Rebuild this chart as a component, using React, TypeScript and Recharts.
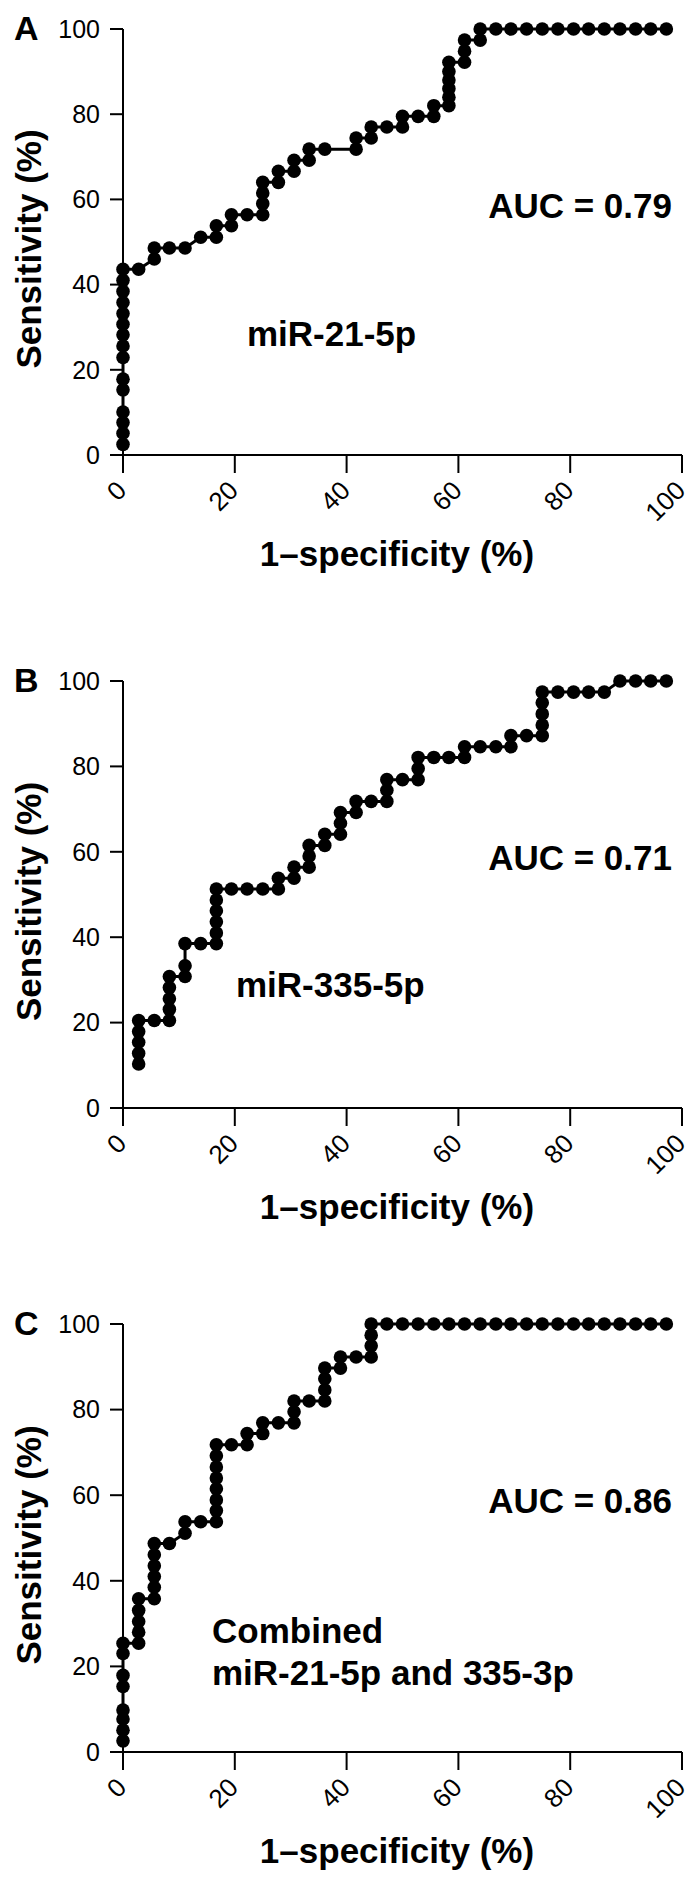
import { LineChart, Line, XAxis, YAxis, Label } from "recharts";

const FONT = '"Liberation Sans", Arial, Helvetica, sans-serif';

// Panel A – miR-21-5p
const aFpr = [
    0, 0, 0, 0, 0, 0, 0, 0, 0, 0, 0, 0, 0, 0, 0,
    2.8, 5.6, 5.6, 8.3, 11.1, 13.9, 16.7, 16.7, 19.4, 19.4,
    22.2, 25.0, 25.0, 25.0, 25.0, 27.8, 27.8, 30.6, 30.6, 33.3,
    33.3, 36.1, 41.7, 41.7, 44.4, 44.4, 47.2, 50.0, 50.0, 52.8,
    55.6, 55.6, 58.3, 58.3, 58.3, 58.3, 58.3, 58.3,
    61.1, 61.1, 61.1, 63.9, 63.9,
    66.7, 69.4, 72.2, 75.0, 77.8, 80.6, 83.3, 86.1, 88.9, 91.7, 94.4, 97.2,
];
const aSens = [
    2.5, 5.1, 7.6, 10.1, 15.3, 17.8, 22.9, 25.6, 28.2, 30.7, 33.2, 35.8, 38.4, 41.0, 43.6,
    43.6, 46.0, 48.6, 48.6, 48.6, 51.1, 51.1, 53.8, 53.8, 56.4,
    56.4, 56.4, 59.0, 61.5, 64.0, 64.0, 66.6, 66.6, 69.2, 69.2,
    71.8, 71.8, 71.8, 74.4, 74.4, 77.0, 77.0, 77.0, 79.5, 79.5,
    79.5, 82.0, 82.0, 84.0, 86.0, 88.0, 90.0, 92.2,
    92.2, 94.8, 97.4, 97.4, 100,
    100, 100, 100, 100, 100, 100, 100, 100, 100, 100, 100, 100,
];

// Panel B – miR-335-5p
const bFpr = [
    2.8, 2.8, 2.8, 2.8, 2.8, 5.6, 8.3, 8.3, 8.3, 8.3, 8.3, 11.1, 11.1, 11.1, 13.9,
    16.7, 16.7, 16.7, 16.7, 16.7, 16.7, 19.4, 22.2, 25.0, 27.8, 27.8, 30.6, 30.6,
    33.3, 33.3, 33.3, 36.1, 36.1, 38.9, 38.9, 38.9, 41.7, 41.7, 44.4, 47.2, 47.2, 47.2,
    50.0, 52.8, 52.8, 52.8, 55.6, 58.3, 61.1, 61.1, 63.9, 66.7, 69.4, 69.4, 72.2,
    75.0, 75.0, 75.0, 75.0, 75.0, 77.8, 80.6, 83.3, 86.1, 88.9, 91.7, 94.4, 97.2,
];
const bSens = [
    10.3, 12.8, 15.4, 17.9, 20.5, 20.5, 20.5, 23.1, 25.6, 28.2, 30.8, 30.8, 33.3, 38.5, 38.5,
    38.5, 41.0, 43.6, 46.2, 48.7, 51.3, 51.3, 51.3, 51.3, 51.3, 53.8, 53.8, 56.4,
    56.4, 59.0, 61.5, 61.5, 64.1, 64.1, 66.7, 69.2, 69.2, 71.8, 71.8, 71.8, 74.4, 76.9,
    76.9, 76.9, 79.5, 82.1, 82.1, 82.1, 82.1, 84.6, 84.6, 84.6, 84.6, 87.2, 87.2,
    87.2, 89.7, 92.3, 94.9, 97.4, 97.4, 97.4, 97.4, 97.4, 100, 100, 100, 100,
];

// Panel C – combined
const cFpr = [
    0, 0, 0, 0, 0, 0, 0, 0,
    2.8, 2.8, 2.8, 2.8, 2.8,
    5.6, 5.6, 5.6, 5.6, 5.6, 5.6,
    8.3, 11.1, 11.1, 13.9,
    16.7, 16.7, 16.7, 16.7, 16.7, 16.7, 16.7, 16.7,
    19.4, 22.2, 22.2, 25.0, 25.0, 27.8, 30.6, 30.6, 30.6, 33.3,
    36.1, 36.1, 36.1, 36.1, 38.9, 38.9, 41.7, 44.4, 44.4, 44.4, 44.4,
    47.2, 50.0, 52.8, 55.6, 58.3, 61.1, 63.9, 66.7, 69.4, 72.2,
    75.0, 77.8, 80.6, 83.3, 86.1, 88.9, 91.7, 94.4, 97.2,
];
const cSens = [
    2.6, 5.1, 7.7, 9.8, 15.3, 17.9, 23.0, 25.4,
    25.4, 28.0, 30.5, 33.1, 35.8,
    35.8, 38.5, 41.0, 43.5, 46.1, 48.7,
    48.7, 51.1, 53.8, 53.8,
    53.8, 56.4, 58.9, 61.5, 64.0, 66.6, 69.2, 71.8,
    71.8, 71.8, 74.4, 74.4, 76.9, 76.9, 76.9, 79.5, 82.0, 82.0,
    82.0, 84.6, 87.2, 89.7, 89.7, 92.3, 92.3, 92.3, 94.9, 97.4, 100,
    100, 100, 100, 100, 100, 100, 100, 100, 100, 100,
    100, 100, 100, 100, 100, 100, 100, 100, 100,
];

const axisTicks = [0, 20, 40, 60, 80, 100];

const PLOT_TOP = 29;
const X_AXIS_H = 145;

const XTick = (props: any) => {
    const { x, y, payload } = props;
    const ax = x - 8;
    return (
        <text
            x={ax}
            y={y}
            dy="0.71em"
            textAnchor="end"
            transform={`rotate(-45, ${ax}, ${y})`}
            fontSize={26}
            fontFamily={FONT}
            fill="#000"
        >
            {payload.value}
        </text>
    );
};

const xTitle = (props: any) => {
    const vb = props.viewBox;
    return (
        <text x={397} y={vb.y + 111} textAnchor="middle" fontSize={35} fontWeight="bold" fontFamily={FONT} fill="#000">
            1–specificity (%)
        </text>
    );
};

const yTitle = (props: any) => {
    const vb = props.viewBox;
    const cy = vb.y + vb.height / 2 + 7;
    return (
        <text
            x={41}
            y={cy}
            textAnchor="middle"
            transform={`rotate(-90, 41, ${cy})`}
            fontSize={35}
            fontWeight="bold"
            fontFamily={FONT}
            fill="#000"
        >
            Sensitivity (%)
        </text>
    );
};

interface RocPanelProps {
    top: number;
    plotHeight: number;
    letter: string;
    auc: string;
    fpr: number[];
    sens: number[];
    lines: string[];
    labelX: number;
    labelY: number;
}

function RocPanel({ top, plotHeight, letter, auc, fpr, sens, lines, labelX, labelY }: RocPanelProps) {
    const data = fpr.map((x, i) => ({ x, y: sens[i] }));
    const height = PLOT_TOP + plotHeight + X_AXIS_H;
    const bold = { fontSize: 35, fontWeight: "bold" as const, fontFamily: FONT, fill: "#000" };
    return (
        <div style={{ position: "absolute", left: 0, top }}>
            <LineChart width={697} height={height} data={data} margin={{ top: PLOT_TOP, right: 15, bottom: 0, left: 0 }}>
                <XAxis
                    type="number"
                    dataKey="x"
                    domain={[0, 100]}
                    ticks={axisTicks}
                    interval={0}
                    height={X_AXIS_H}
                    tickSize={18}
                    tickMargin={6}
                    axisLine={{ stroke: "#000", strokeWidth: 2 }}
                    tickLine={{ stroke: "#000", strokeWidth: 2 }}
                    tick={<XTick />}
                >
                    <Label content={xTitle} />
                </XAxis>
                <YAxis
                    type="number"
                    domain={[0, 100]}
                    ticks={axisTicks}
                    interval={0}
                    width={123}
                    tickSize={13}
                    tickMargin={10}
                    axisLine={{ stroke: "#000", strokeWidth: 2 }}
                    tickLine={{ stroke: "#000", strokeWidth: 2 }}
                    tick={{ fill: "#000", fontSize: 25, fontFamily: FONT }}
                >
                    <Label content={yTitle} />
                </YAxis>
                <Line
                    type="linear"
                    dataKey="y"
                    stroke="#000"
                    strokeWidth={3}
                    dot={{ r: 6.8, fill: "#000", stroke: "#000", strokeWidth: 0 }}
                    isAnimationActive={false}
                />
                <text x={14} y={PLOT_TOP + 11} fontSize={34} fontWeight="bold" fontFamily={FONT} fill="#000">
                    {letter}
                </text>
                <text x={672} y={PLOT_TOP + 189} textAnchor="end" {...bold}>
                    {auc}
                </text>
                {lines.map((t, i) => (
                    <text key={t} x={labelX} y={labelY + i * 42} {...bold}>
                        {t}
                    </text>
                ))}
            </LineChart>
        </div>
    );
}

export default function App() {
    return (
        <div style={{ position: "absolute", left: 0, top: 0, width: 697, height: 1886, background: "#fff" }}>
            <RocPanel top={0} plotHeight={426} letter="A" auc="AUC = 0.79" fpr={aFpr} sens={aSens}
                lines={["miR-21-5p"]} labelX={247} labelY={346} />
            <RocPanel top={652} plotHeight={427} letter="B" auc="AUC = 0.71" fpr={bFpr} sens={bSens}
                lines={["miR-335-5p"]} labelX={236} labelY={345} />
            <RocPanel top={1295} plotHeight={428} letter="C" auc="AUC = 0.86" fpr={cFpr} sens={cSens}
                lines={["Combined", "miR-21-5p and 335-3p"]} labelX={212} labelY={348} />
        </div>
    );
}
